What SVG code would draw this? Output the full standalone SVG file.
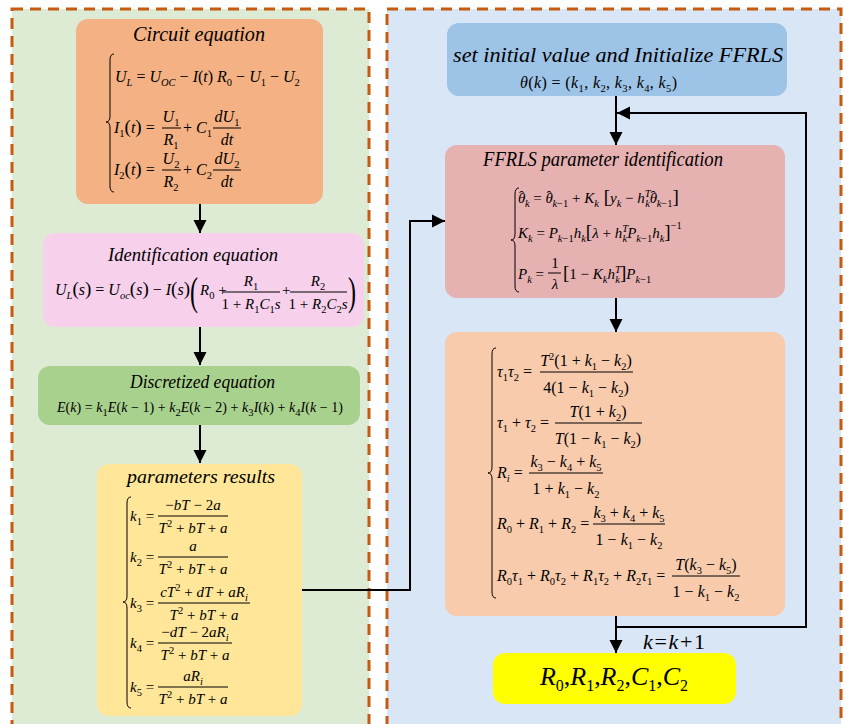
<svg xmlns="http://www.w3.org/2000/svg" width="859" height="724" viewBox="0 0 859 724">
<defs>
<style>
.eq{font-family:"Liberation Serif","DejaVu Serif","Noto Serif","Times New Roman",serif;font-style:italic;font-size:15px;fill:#000}
.e16{font-size:16px}
.u{font-style:normal}
.sb{font-size:10.5px;baseline-shift:-4px}
.sp{font-size:10.5px;baseline-shift:6px}
.br{font-size:19px}
.pa{font-size:19px}
.hat{font-style:normal;baseline-shift:2px}
.ttl{font-family:"Liberation Serif","DejaVu Serif","Noto Serif","Times New Roman",serif;font-style:italic;fill:#000}
.bar{stroke:#000;stroke-width:1}
.brace{fill:none;stroke:#000;stroke-width:1}
.panel{stroke:#c55a11;stroke-width:3;stroke-dasharray:11 7}
</style>
<marker id="ah" markerWidth="14" markerHeight="14" refX="13" refY="7" orient="auto" markerUnits="userSpaceOnUse">
<path d="M0,0.5 L13,7 L0,13.5 Z" fill="#000" stroke="none"/>
</marker>
</defs>
<rect width="859" height="724" fill="#fff"/>
<rect class="panel" x="12" y="9" width="357" height="760" fill="#ddebd5"/>
<rect class="panel" x="387" y="9" width="454" height="760" fill="#d8e6f5"/>

<g id="circuit">
<rect x="76" y="19" width="247" height="185" rx="12" fill="#f4b183"/>
<text class="ttl" x="133" y="41" font-size="20" textLength="132" lengthAdjust="spacingAndGlyphs">Circuit equation</text>
<path class="brace" d="M114,54 Q110,54 110,60 L110,116 Q110,122 106,122 Q110,122 110,128 L110,186 Q110,192 114,192"/>
<text class="eq e16" x="115" y="82">U<tspan class="sb">L</tspan><tspan class="u"> = </tspan>U<tspan class="sb">OC</tspan><tspan class="u"> − </tspan>I<tspan class="u">(</tspan>t<tspan class="u">) </tspan>R<tspan class="sb u">0</tspan><tspan class="u"> − </tspan>U<tspan class="sb u">1</tspan><tspan class="u"> − </tspan>U<tspan class="sb u">2</tspan></text>
<text class="eq e16" x="114" y="133">I<tspan class="sb u">1</tspan><tspan class="u pa">(</tspan>t<tspan class="u pa">)</tspan><tspan class="u"> =</tspan></text>
<text class="eq e16" x="171" y="122" text-anchor="middle">U<tspan class="sb u">1</tspan></text>
<line class="bar" x1="162" y1="128" x2="181" y2="128"/>
<text class="eq e16" x="171" y="145" text-anchor="middle">R<tspan class="sb u">1</tspan></text>
<text class="eq e16" x="183" y="133"><tspan class="u">+ </tspan>C<tspan class="sb u">1</tspan></text>
<text class="eq e16" x="227" y="122" text-anchor="middle">dU<tspan class="sb u">1</tspan></text>
<line class="bar" x1="213" y1="128" x2="241" y2="128"/>
<text class="eq e16" x="227" y="145" text-anchor="middle">dt</text>
<text class="eq e16" x="114" y="175">I<tspan class="sb u">2</tspan><tspan class="u pa">(</tspan>t<tspan class="u pa">)</tspan><tspan class="u"> =</tspan></text>
<text class="eq e16" x="171" y="164" text-anchor="middle">U<tspan class="sb u">2</tspan></text>
<line class="bar" x1="162" y1="170" x2="181" y2="170"/>
<text class="eq e16" x="171" y="187" text-anchor="middle">R<tspan class="sb u">2</tspan></text>
<text class="eq e16" x="183" y="175"><tspan class="u">+ </tspan>C<tspan class="sb u">2</tspan></text>
<text class="eq e16" x="227" y="164" text-anchor="middle">dU<tspan class="sb u">2</tspan></text>
<line class="bar" x1="213" y1="170" x2="241" y2="170"/>
<text class="eq e16" x="227" y="187" text-anchor="middle">dt</text>
</g>

<g id="identification">
<rect x="43" y="233" width="321" height="94" rx="12" fill="#f7d1ec"/>
<text class="ttl" x="108" y="261" font-size="19" textLength="170" lengthAdjust="spacingAndGlyphs">Identification equation</text>
<text class="eq e16" x="55" y="295">U<tspan class="sb">L</tspan><tspan class="u pa">(</tspan>s<tspan class="u pa">)</tspan><tspan class="u"> = </tspan>U<tspan class="sb">oc</tspan><tspan class="u pa">(</tspan>s<tspan class="u pa">)</tspan><tspan class="u"> − </tspan>I<tspan class="u pa">(</tspan>s<tspan class="u pa">)</tspan></text>
<text class="eq u" x="0" y="0" style="font-size:30px" transform="translate(190 305) scale(0.8 1.35)">(</text>
<text class="eq" x="200" y="295">R<tspan class="sb u">0</tspan><tspan class="u"> +</tspan></text>
<text class="eq" x="251" y="286" text-anchor="middle">R<tspan class="sb u">1</tspan></text>
<line class="bar" x1="223" y1="292" x2="280" y2="292"/>
<text class="eq" x="251" y="309" text-anchor="middle"><tspan class="u">1 + </tspan>R<tspan class="sb u">1</tspan>C<tspan class="sb u">1</tspan>s</text>
<text class="eq u" x="282" y="295">+</text>
<text class="eq" x="318" y="286" text-anchor="middle">R<tspan class="sb u">2</tspan></text>
<line class="bar" x1="290" y1="292" x2="347" y2="292"/>
<text class="eq" x="318" y="309" text-anchor="middle"><tspan class="u">1 + </tspan>R<tspan class="sb u">2</tspan>C<tspan class="sb u">2</tspan>s</text>
<text class="eq u" x="0" y="0" style="font-size:30px" transform="translate(348 305) scale(0.8 1.35)">)</text>
</g>

<g id="discretized">
<rect x="38" y="366" width="322" height="59" rx="12" fill="#a9d18e"/>
<text class="ttl" x="130" y="388" font-size="19" textLength="145" lengthAdjust="spacingAndGlyphs">Discretized equation</text>
<text class="eq" x="57" y="412" style="font-size:14px" textLength="286" lengthAdjust="spacing">E<tspan class="u">(</tspan>k<tspan class="u">) = </tspan>k<tspan class="sb u">1</tspan>E<tspan class="u">(</tspan>k<tspan class="u"> − 1) + </tspan>k<tspan class="sb u">2</tspan>E<tspan class="u">(</tspan>k<tspan class="u"> − 2) + </tspan>k<tspan class="sb u">3</tspan>I<tspan class="u">(</tspan>k<tspan class="u">) + </tspan>k<tspan class="sb u">4</tspan>I<tspan class="u">(</tspan>k<tspan class="u"> − 1)</tspan></text>
</g>

<g id="parameters">
<rect x="97" y="464" width="205" height="252" rx="12" fill="#ffe699"/>
<text class="ttl" x="127" y="483" font-size="19" textLength="148" lengthAdjust="spacingAndGlyphs">parameters results</text>
<path class="brace" d="M131,497 Q127,497 127,503 L127,596 Q127,602 123,602 Q127,602 127,608 L127,702 Q127,708 131,708"/>
<text class="eq" x="130" y="521">k<tspan class="sb u">1</tspan><tspan class="u"> =</tspan></text>
<text class="eq" x="193" y="510" text-anchor="middle"><tspan class="u">−</tspan>bT<tspan class="u"> − 2</tspan>a</text>
<line class="bar" x1="158" y1="516" x2="228" y2="516"/>
<text class="eq" x="193" y="533" text-anchor="middle">T<tspan class="sp u">2</tspan><tspan class="u"> + </tspan>bT<tspan class="u"> + </tspan>a</text>
<text class="eq" x="130" y="562">k<tspan class="sb u">2</tspan><tspan class="u"> =</tspan></text>
<text class="eq" x="193" y="551" text-anchor="middle">a</text>
<line class="bar" x1="158" y1="557" x2="228" y2="557"/>
<text class="eq" x="193" y="574" text-anchor="middle">T<tspan class="sp u">2</tspan><tspan class="u"> + </tspan>bT<tspan class="u"> + </tspan>a</text>
<text class="eq" x="130" y="608">k<tspan class="sb u">3</tspan><tspan class="u"> =</tspan></text>
<text class="eq" x="204" y="597" text-anchor="middle">cT<tspan class="sp u">2</tspan><tspan class="u"> + </tspan>dT<tspan class="u"> + </tspan>aR<tspan class="sb">i</tspan></text>
<line class="bar" x1="158" y1="603" x2="250" y2="603"/>
<text class="eq" x="204" y="620" text-anchor="middle">T<tspan class="sp u">2</tspan><tspan class="u"> + </tspan>bT<tspan class="u"> + </tspan>a</text>
<text class="eq" x="130" y="648">k<tspan class="sb u">4</tspan><tspan class="u"> =</tspan></text>
<text class="eq" x="195" y="637" text-anchor="middle"><tspan class="u">−</tspan>dT<tspan class="u"> − 2</tspan>aR<tspan class="sb">i</tspan></text>
<line class="bar" x1="158" y1="643" x2="232" y2="643"/>
<text class="eq" x="195" y="660" text-anchor="middle">T<tspan class="sp u">2</tspan><tspan class="u"> + </tspan>bT<tspan class="u"> + </tspan>a</text>
<text class="eq" x="130" y="692">k<tspan class="sb u">5</tspan><tspan class="u"> =</tspan></text>
<text class="eq" x="193" y="681" text-anchor="middle">aR<tspan class="sb">i</tspan></text>
<line class="bar" x1="158" y1="687" x2="228" y2="687"/>
<text class="eq" x="193" y="704" text-anchor="middle">T<tspan class="sp u">2</tspan><tspan class="u"> + </tspan>bT<tspan class="u"> + </tspan>a</text>
</g>

<g id="init">
<rect x="447" y="23" width="340" height="73" rx="12" fill="#9dc3e6"/>
<text class="ttl" x="453" y="62" font-size="22" textLength="330" lengthAdjust="spacingAndGlyphs">set initial value and Initialize FFRLS</text>
<text class="eq" x="520" y="88" style="font-size:16px" textLength="157" lengthAdjust="spacing">θ<tspan class="u">(</tspan>k<tspan class="u">) = (</tspan>k<tspan class="sb u">1</tspan><tspan class="u">, </tspan>k<tspan class="sb u">2</tspan><tspan class="u">, </tspan>k<tspan class="sb u">3</tspan><tspan class="u">, </tspan>k<tspan class="sb u">4</tspan><tspan class="u">, </tspan>k<tspan class="sb u">5</tspan><tspan class="u">)</tspan></text>
</g>

<g id="ffrls">
<rect x="445" y="145" width="340" height="153" rx="12" fill="#e6b1b1"/>
<text class="ttl" x="483" y="166" font-size="20" textLength="240" lengthAdjust="spacingAndGlyphs">FFRLS parameter identification</text>
<path class="brace" d="M519,188 Q515,188 515,194 L515,234 Q515,240 511,240 Q515,240 515,246 L515,286 Q515,292 519,292"/>
<text class="eq" x="518" y="203">θ<tspan class="hat" dx="-6.5">ˆ</tspan><tspan class="sb" dx="1">k</tspan><tspan class="u"> = </tspan>θ<tspan class="hat" dx="-6.5">ˆ</tspan><tspan class="sb" dx="1">k</tspan><tspan class="sb u">−1</tspan><tspan class="u"> + </tspan>K<tspan class="sb">k</tspan><tspan class="u br"> [</tspan>y<tspan class="sb">k</tspan><tspan class="u"> − </tspan>h<tspan class="sp">T</tspan><tspan class="sb" dx="-5.5">k</tspan>θ<tspan class="hat" dx="-6.5">ˆ</tspan><tspan class="sb" dx="1">k</tspan><tspan class="sb u">−1</tspan><tspan class="u br">]</tspan></text>
<text class="eq" x="518" y="238">K<tspan class="sb">k</tspan><tspan class="u"> = </tspan>P<tspan class="sb">k</tspan><tspan class="sb u">−1</tspan>h<tspan class="sb">k</tspan><tspan class="u br">[</tspan>λ<tspan class="u"> + </tspan>h<tspan class="sp">T</tspan><tspan class="sb" dx="-5.5">k</tspan>P<tspan class="sb">k</tspan><tspan class="sb u">−1</tspan>h<tspan class="sb">k</tspan><tspan class="u br">]</tspan><tspan class="sp u" dy="-3">−1</tspan></text>
<text class="eq" x="518" y="279">P<tspan class="sb">k</tspan><tspan class="u"> =</tspan></text>
<text class="eq u" x="555" y="268" text-anchor="middle">1</text>
<line class="bar" x1="548" y1="273" x2="561" y2="273"/>
<text class="eq" x="555" y="289" text-anchor="middle">λ</text>
<text class="eq" x="563" y="279"><tspan class="u br">[</tspan><tspan class="u">1 − </tspan>K<tspan class="sb">k</tspan>h<tspan class="sp">T</tspan><tspan class="sb" dx="-5.5">k</tspan><tspan class="u br">]</tspan>P<tspan class="sb">k</tspan><tspan class="sb u">−1</tspan></text>
</g>

<g id="relations">
<rect x="445" y="332" width="340" height="284" rx="12" fill="#f8cbad"/>
<path class="brace" d="M496,348 Q492,348 492,354 L492,467 Q492,473 488,473 Q492,473 492,479 L492,592 Q492,598 496,598"/>
<text class="eq e16" x="497" y="377">τ<tspan class="sb u">1</tspan>τ<tspan class="sb u">2</tspan><tspan class="u"> =</tspan></text>
<text class="eq e16" x="586" y="366" text-anchor="middle">T<tspan class="sp u">2</tspan><tspan class="u">(1 + </tspan>k<tspan class="sb u">1</tspan><tspan class="u"> − </tspan>k<tspan class="sb u">2</tspan><tspan class="u">)</tspan></text>
<line class="bar" x1="540" y1="372" x2="633" y2="372"/>
<text class="eq e16" x="586" y="393" text-anchor="middle"><tspan class="u">4(1 − </tspan>k<tspan class="sb u">1</tspan><tspan class="u"> − </tspan>k<tspan class="sb u">2</tspan><tspan class="u">)</tspan></text>
<text class="eq e16" x="497" y="428">τ<tspan class="sb u">1</tspan><tspan class="u"> + </tspan>τ<tspan class="sb u">2</tspan><tspan class="u"> =</tspan></text>
<text class="eq e16" x="598" y="417" text-anchor="middle">T<tspan class="u">(1 + </tspan>k<tspan class="sb u">2</tspan><tspan class="u">)</tspan></text>
<line class="bar" x1="555" y1="423" x2="642" y2="423"/>
<text class="eq e16" x="598" y="444" text-anchor="middle">T<tspan class="u">(1 − </tspan>k<tspan class="sb u">1</tspan><tspan class="u"> − </tspan>k<tspan class="sb u">2</tspan><tspan class="u">)</tspan></text>
<text class="eq e16" x="497" y="478">R<tspan class="sb">i</tspan><tspan class="u"> =</tspan></text>
<text class="eq e16" x="566" y="467" text-anchor="middle">k<tspan class="sb u">3</tspan><tspan class="u"> − </tspan>k<tspan class="sb u">4</tspan><tspan class="u"> + </tspan>k<tspan class="sb u">5</tspan></text>
<line class="bar" x1="529" y1="473" x2="603" y2="473"/>
<text class="eq e16" x="566" y="494" text-anchor="middle"><tspan class="u">1 + </tspan>k<tspan class="sb u">1</tspan><tspan class="u"> − </tspan>k<tspan class="sb u">2</tspan></text>
<text class="eq e16" x="497" y="529">R<tspan class="sb u">0</tspan><tspan class="u"> + </tspan>R<tspan class="sb u">1</tspan><tspan class="u"> + </tspan>R<tspan class="sb u">2</tspan><tspan class="u"> =</tspan></text>
<text class="eq e16" x="629" y="518" text-anchor="middle">k<tspan class="sb u">3</tspan><tspan class="u"> + </tspan>k<tspan class="sb u">4</tspan><tspan class="u"> + </tspan>k<tspan class="sb u">5</tspan></text>
<line class="bar" x1="593" y1="524" x2="665" y2="524"/>
<text class="eq e16" x="629" y="545" text-anchor="middle"><tspan class="u">1 − </tspan>k<tspan class="sb u">1</tspan><tspan class="u"> − </tspan>k<tspan class="sb u">2</tspan></text>
<text class="eq e16" x="497" y="581">R<tspan class="sb u">0</tspan>τ<tspan class="sb u">1</tspan><tspan class="u"> + </tspan>R<tspan class="sb u">0</tspan>τ<tspan class="sb u">2</tspan><tspan class="u"> + </tspan>R<tspan class="sb u">1</tspan>τ<tspan class="sb u">2</tspan><tspan class="u"> + </tspan>R<tspan class="sb u">2</tspan>τ<tspan class="sb u">1</tspan><tspan class="u"> =</tspan></text>
<text class="eq e16" x="706" y="570" text-anchor="middle">T<tspan class="u">(</tspan>k<tspan class="sb u">3</tspan><tspan class="u"> − </tspan>k<tspan class="sb u">5</tspan><tspan class="u">)</tspan></text>
<line class="bar" x1="672" y1="576" x2="740" y2="576"/>
<text class="eq e16" x="706" y="597" text-anchor="middle"><tspan class="u">1 − </tspan>k<tspan class="sb u">1</tspan><tspan class="u"> − </tspan>k<tspan class="sb u">2</tspan></text>
</g>

<g id="result">
<rect x="493" y="653" width="243" height="51" rx="12" fill="#ffff00"/>
<text class="eq" x="540" y="685" style="font-size:26px" textLength="148" lengthAdjust="spacing">R<tspan class="u" style="font-size:16px;baseline-shift:-6px">0</tspan><tspan class="u">,</tspan>R<tspan class="u" style="font-size:16px;baseline-shift:-6px">1</tspan><tspan class="u">,</tspan>R<tspan class="u" style="font-size:16px;baseline-shift:-6px">2</tspan><tspan class="u">,</tspan>C<tspan class="u" style="font-size:16px;baseline-shift:-6px">1</tspan><tspan class="u">,</tspan>C<tspan class="u" style="font-size:16px;baseline-shift:-6px">2</tspan></text>
</g>

<g id="connectors" fill="none" stroke="#000" stroke-width="2">
<line x1="200" y1="204" x2="200" y2="233" marker-end="url(#ah)"/>
<line x1="200" y1="327" x2="200" y2="365" marker-end="url(#ah)"/>
<line x1="200" y1="425" x2="200" y2="463" marker-end="url(#ah)"/>
<polyline points="302,590 410,590 410,221 445,221" marker-end="url(#ah)"/>
<line x1="616" y1="96" x2="616" y2="145" marker-end="url(#ah)"/>
<line x1="616" y1="298" x2="616" y2="332" marker-end="url(#ah)"/>
<line x1="616" y1="616" x2="616" y2="653" marker-end="url(#ah)"/>
<polyline points="616,627 806,627 806,113 617,113" marker-end="url(#ah)"/>
<text class="eq u" x="643" y="649" stroke="none" style="font-size:22px" textLength="62" lengthAdjust="spacing"><tspan font-style="italic">k</tspan>=<tspan font-style="italic">k</tspan>+1</text>
</g>
</svg>
